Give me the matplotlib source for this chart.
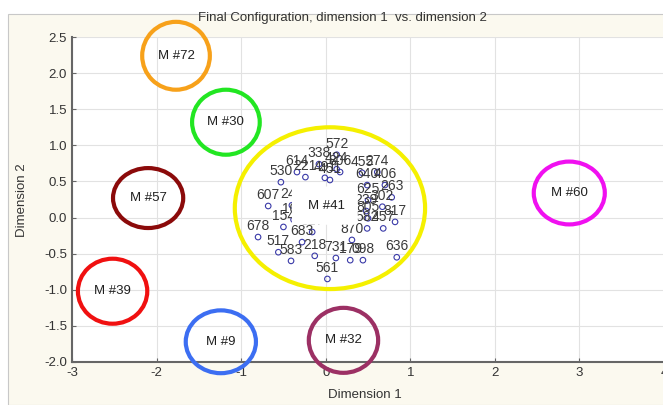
import matplotlib
matplotlib.use('Agg')
import matplotlib.pyplot as plt
from matplotlib.patches import Ellipse, FancyBboxPatch, Rectangle

plt.rcParams['font.family'] = ['Liberation Sans', 'DejaVu Sans']
plt.rcParams['axes.unicode_minus'] = False

# objects (dimension 1, dimension 2) and their ids
obj_ids = ['572', '338', '424', '614', '530', '221', '491', '806', '451', '455',
           '274', '640', '406', '263', '625', '302', '607', '243', '109', '154',
           '678', '517', '583', '683', '327', '561', '731', '218', '179', '098',
           '636', '870', '582', '805', '817', '239', '457']
dim1 = [0.13, -0.08, 0.13, -0.34, -0.53, -0.24, -0.01, 0.17, 0.05, 0.43,
        0.61, 0.49, 0.70, 0.78, 0.50, 0.67, -0.68, -0.40, -0.38, -0.50,
        -0.80, -0.56, -0.41, -0.28, -0.16, 0.02, 0.12, -0.13, 0.29, 0.44,
        0.84, 0.31, 0.49, 0.50, 0.82, 0.48, 0.68]
dim2 = [0.87, 0.74, 0.67, 0.63, 0.49, 0.56, 0.55, 0.63, 0.52, 0.62,
        0.63, 0.45, 0.45, 0.28, 0.24, 0.15, 0.16, 0.17, -0.03, -0.13,
        -0.27, -0.48, -0.60, -0.34, -0.20, -0.85, -0.56, -0.53, -0.59, -0.59,
        -0.55, -0.31, -0.15, -0.01, -0.06, 0.09, -0.15]

# highlighted groups: label, centre x, centre y, width, height, colour
grp_names = ['M#72', 'M#30', 'M#57', 'M#39', 'M#9', 'M#32', 'M#60', 'M#41']
grp_x = [-1.77, -1.18, -2.10, -2.52, -1.24, 0.21, 2.88, 0.05]
grp_y = [2.24, 1.32, 0.27, -1.02, -1.72, -1.70, 0.34, 0.13]
grp_w = [0.80, 0.80, 0.83, 0.82, 0.83, 0.82, 0.84, 2.25]
grp_h = [0.94, 0.90, 0.83, 0.90, 0.87, 0.90, 0.87, 2.24]
grp_colors = ['#f7a11a', '#22e622', '#8b0a0a', '#f01010', '#3c6ef2',
              '#9c3064', '#f010f0', '#f5f000']

fig = plt.figure(figsize=(6.63, 4.05), dpi=100, facecolor='white')
fig.patches.append(Rectangle((8 / 663, 0), 1, 1 - 14 / 405, transform=fig.transFigure,
                             facecolor='#fbf9ef', edgecolor='#c8c8c8', lw=0.8, zorder=-5))

ax = fig.add_axes([72 / 663, 1 - 362 / 405, 592 / 663, 325 / 405])
ax.set_facecolor('white')

ax.scatter(dim1, dim2, s=16, facecolors='none', edgecolors='#3a3aa8', linewidths=0.8, zorder=3)
for lab, x, y in zip(obj_ids, dim1, dim2):
    ax.annotate(lab, (x, y), xytext=(0, 3), textcoords='offset points',
                ha='center', va='bottom', fontsize=10, color='#3a3a3a', zorder=4)

# white box behind the central label
ax.add_patch(FancyBboxPatch((-0.37, -0.07), 0.72, 0.47, boxstyle='round,pad=0.03',
                            facecolor='white', edgecolor='none', zorder=5))

for name, x, y, w, h, c in zip(grp_names, grp_x, grp_y, grp_w, grp_h, grp_colors):
    ax.add_patch(Ellipse((x, y), w, h, facecolor='none', edgecolor=c, lw=3.0,
                         zorder=6, clip_on=False))
    ty = y + 0.03 if name == 'M#41' else y
    tx = x - 0.04 if name == 'M#41' else x
    ax.text(tx, ty, name.replace('#', ' # ').replace('M # ', 'M #'), ha='center', va='center',
            fontsize=9.5, color='#202020', zorder=7)

ax.set_xlim(-3, 4)
ax.set_ylim(-2.0, 2.5)
ax.set_xticks(range(-3, 5))
ax.set_yticks([2.5, 2.0, 1.5, 1.0, 0.5, 0.0, -0.5, -1.0, -1.5, -2.0])
ax.set_yticklabels(['2.5', '2.0', '1.5', '1.0', '0.5', '0.0', '-0.5', '-1.0', '-1.5', '-2.0'])
ax.grid(True, color='#e2e2e2', lw=0.8, zorder=0)
ax.set_axisbelow(True)
for s in ['top', 'right']:
    ax.spines[s].set_visible(False)
for s in ['left', 'bottom']:
    ax.spines[s].set_color('#666666')
    ax.spines[s].set_linewidth(1.5)
ax.tick_params(direction='in', length=3, colors='#666666', labelcolor='#333333', labelsize=9.5)

fig.text(342 / 663, 1 - 18 / 405, 'Final Configuration, dimension 1  vs. dimension 2',
         ha='center', va='center', fontsize=9.5, color='#333333')
fig.text(365 / 663, 1 - 395 / 405, 'Dimension 1', ha='center', va='center',
         fontsize=9.5, color='#333333')
fig.text(22 / 663, 1 - 200 / 405, 'Dimension 2', ha='center', va='center',
         rotation=90, fontsize=9.5, color='#333333')

fig.savefig('out.png', dpi=100, facecolor=fig.get_facecolor())
